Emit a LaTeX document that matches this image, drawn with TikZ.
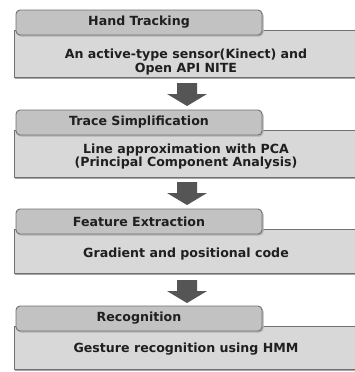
\documentclass[tikz,border=0pt]{standalone}
\usepackage{fontspec}
\setmainfont{DejaVu Sans}
\definecolor{tabfill}{HTML}{C2C2C2}
\definecolor{bodyfill}{HTML}{D8D8D8}
\definecolor{edgegray}{HTML}{707070}
\definecolor{arrowgray}{HTML}{555555}
\tikzset{
  bodybox/.style={fill=bodyfill, draw=edgegray, line width=0.8pt},
  bodyshadow/.style={fill=black!35, draw=none},
  tabbox/.style={fill=tabfill, draw=edgegray, line width=0.9pt, rounded corners=4pt},
  tabshadow/.style={fill=black!30, draw=none, rounded corners=4pt},
  tabtext/.style={font=\bfseries\fontsize{12.6}{13}\selectfont, text=black!88, inner sep=0pt},
  bodytext/.style={font=\bfseries\fontsize{12.6}{13.5}\selectfont, text=black!88, align=center, inner sep=0pt},
  flowarrow/.style={fill=arrowgray, draw=none}
}
% one stage: body panel, tab on top, two labels
\newcommand{\stagepanel}[6]{% #1 name, #2 tab top y, #3 body bottom y, #4 body text centre y, #5 tab text, #6 body text
  \fill[bodyshadow] (15,#2+22) rectangle (357,#3+2);
  \draw[bodybox] (14,#2+20) rectangle (357,#3);
  \fill[tabshadow] (17,#2+1.5) rectangle (263.5,#2+26.5);
  \draw[tabbox] (16,#2) rectangle (262,#2+25);
  \node[tabtext] (#1tab) at (139,#2+12.5) {#5};
  \node[bodytext] (#1body) at (186,#4) {#6};
}
% block arrow pointing down, between two stages
\newcommand{\blockdown}[3]{% #1 name, #2 top y, #3 centre x
  \coordinate (#1) at (#3,#2);
  \fill[flowarrow] ([xshift=-10pt]#1) -- ([xshift=10pt]#1) -- ([shift={(10,11)}]#1)
    -- ([shift={(20,11)}]#1) -- ([shift={(0,23)}]#1) -- ([shift={(-20,11)}]#1)
    -- ([shift={(-10,11)}]#1) -- cycle;
}
\begin{document}
\begin{tikzpicture}[x=1pt,y=-1pt]
  \useasboundingbox (0,0) rectangle (355,372);
  \fill[white] (0,0) rectangle (355,372);
  \stagepanel{track}{10}{77}{62}{Hand Tracking}{An active-type sensor(Kinect) and\\Open API NITE}
  \blockdown{a1}{83}{187}
  \stagepanel{trace}{110}{177}{156.5}{Trace Simplification}{Line approximation with PCA\\(Principal Component Analysis)}
  \blockdown{a2}{182}{187}
  \stagepanel{feat}{209}{273}{254}{Feature Extraction}{Gradient and positional code}
  \blockdown{a3}{280}{187}
  \stagepanel{recog}{306}{369}{349.5}{Recognition}{Gesture recognition using HMM}
\end{tikzpicture}
\end{document}
